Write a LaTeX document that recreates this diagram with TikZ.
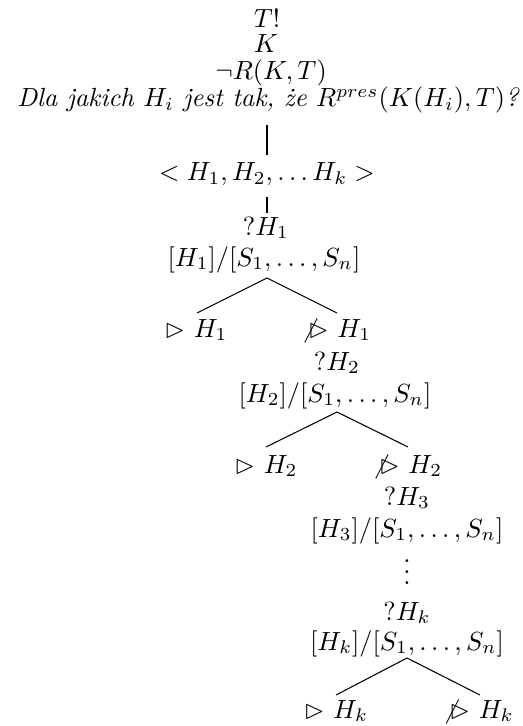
\documentclass[tikz,border=0pt]{standalone}
\usepackage{amssymb}
\begin{document}
\begin{tikzpicture}[x=0.3807pt,y=-0.3807pt,
  lbl/.style={inner sep=0pt,anchor=base},
  edge/.style={draw,line width=0.4pt}]
\useasboundingbox (0,0) rectangle (522,726);
% root lines
\node[lbl] (t) at (267,28) {$T!$};
\node[lbl] (k) at (266,53) {$K$};
\node[lbl] (r) at (271,80) {$\neg R(K,T)$};
\node[lbl,anchor=base east] (q) at (520,107) {\textit{Dla jakich $H_i$ jest tak, że $R^{pres}(K(H_i),T)$?}};
\node[lbl] (list) at (267,181) {$<H_1,H_2,\ldots H_k>$};
% level 1
\node[lbl] (q1) at (266,235) {$?H_1$};
\node[lbl] (s1) at (264,266) {$[H_1]/[S_1,\ldots,S_n]$};
\node[lbl] (y1) at (196,337) {$\rhd$ $H_1$};
\node[lbl] (n1) at (336,337) {$\not\rhd$ $H_1$};
% level 2
\node[lbl] (q2) at (337,370) {$?H_2$};
\node[lbl] (s2) at (335,402) {$[H_2]/[S_1,\ldots,S_n]$};
\node[lbl] (y2) at (266,473) {$\rhd$ $H_2$};
\node[lbl] (n2) at (407,473) {$\not\rhd$ $H_2$};
% level 3 .. k
\node[lbl] (q3) at (407,505) {$?H_3$};
\node[lbl] (s3) at (407,537) {$[H_3]/[S_1,\ldots,S_n]$};
\node[lbl] (dots) at (407,584) {$\vdots$};
\node[lbl] (qk) at (407,620) {$?H_k$};
\node[lbl] (sk) at (407,650) {$[H_k]/[S_1,\ldots,S_n]$};
\node[lbl] (yk) at (336,718) {$\rhd$ $H_k$};
\node[lbl] (nk) at (478,718) {$\not\rhd$ $H_k$};
% connector end points
\coordinate (v1a) at (267,125); \coordinate (v1b) at (267,155);
\coordinate (v2a) at (267,197); \coordinate (v2b) at (267,213);
\coordinate (a1) at (267,278); \coordinate (l1) at (197,313); \coordinate (r1) at (337,313);
\coordinate (a2) at (337,412); \coordinate (l2) at (266,447); \coordinate (r2) at (408,447);
\coordinate (ak) at (407,658); \coordinate (lk) at (336,695); \coordinate (rk) at (480,695);
\draw[edge] (v1a) -- (v1b);
\draw[edge] (v2a) -- (v2b);
\draw[edge] (l1) -- (a1) -- (r1);
\draw[edge] (l2) -- (a2) -- (r2);
\draw[edge] (lk) -- (ak) -- (rk);
\end{tikzpicture}
\end{document}
